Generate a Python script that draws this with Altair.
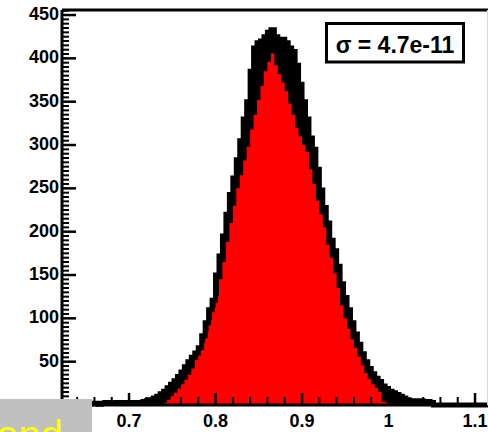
import altair as alt
import pandas as pd

# Histogram binning
bin_start = 0.640
bin_width = 0.004

# Broad distribution, drawn black (filled, with a thick outline)
outline_counts = [
    0, 1, 0, 1, 2, 2, 1, 2, 3, 2,
    2, 3, 2, 3, 2, 3, 2, 3, 3, 4,
    5, 6, 8, 10, 13, 16, 20, 24, 28, 33,
    38, 44, 50, 55, 60, 66, 80, 95, 110, 121,
    150, 172, 195, 220, 243, 262, 283, 305, 330, 350,
    385, 412, 418, 420, 425, 430, 433, 425, 420, 422,
    418, 412, 408, 392, 370, 350, 330, 308, 295, 272,
    248, 228, 210, 190, 178, 160, 140, 124, 110, 95,
    82, 70, 59, 50, 42, 36, 31, 27, 22, 19,
    16, 14, 12, 10, 8, 6, 5, 5, 4, 5,
    3, 4, 3, 0, 0, 0, 0, 0, 0, 0,
    0, 0, 0, 0, 0, 0, 0, 0, 0,
]

# Narrower distribution, drawn as a filled red histogram
filled_counts = [
    0, 0, 0, 0, 0, 0, 0, 0, 0, 0,
    0, 0, 0, 0, 0, 0, 0, 0, 0, 0,
    0, 0, 0, 0, 1, 3, 6, 10, 14, 19,
    24, 29, 35, 42, 52, 63, 72, 85, 98, 112,
    126, 145, 165, 188, 210, 230, 250, 265, 282, 298,
    318, 335, 352, 368, 385, 396, 406, 392, 382, 372,
    362, 348, 335, 320, 310, 300, 292, 272, 255, 236,
    220, 205, 185, 170, 152, 135, 115, 100, 88, 76,
    66, 56, 46, 37, 30, 24, 20, 15, 4, 3,
    2, 0, 0, 0, 0, 0, 0, 0, 0, 0,
    0, 0, 0, 0, 0, 0, 0, 0, 0, 0,
    0, 0, 0, 0, 0, 0, 0, 0, 0,
]

x_labels = [0.7, 0.8, 0.9, 1.0, 1.1]
y_labels = [50, 100, 150, 200, 250, 300, 350, 400, 450]
sigma_text = "σ = 4.7e-11"
legend_text = "Legend"

X_DOMAIN = [0.6225, 1.115]
Y_DOMAIN = [0, 455.8]
W, H = 426, 395
FONT = "Liberation Sans"

lo = [round(bin_start + i * bin_width, 4) for i in range(len(outline_counts))]
hi = [round(v + bin_width, 4) for v in lo]


def step_table(counts):
    # one row per bin left edge, plus the closing right edge of the last bin
    xs_ = lo + [hi[-1]]
    ns_ = list(counts) + [0]
    return pd.DataFrame({"x": xs_, "n": ns_, "base": 0})


broad = step_table(outline_counts)
narrow = step_table(filled_counts)

# Axis tick positions (primary / secondary divisions)
xt = [round(0.64 + 0.02 * i, 2) for i in range(24)]
xt_major = pd.DataFrame({"v": [v for v in xt if abs(v * 10 - round(v * 10)) < 1e-6]})
xt_minor = pd.DataFrame({"v": [v for v in xt if abs(v * 10 - round(v * 10)) >= 1e-6]})
yt = list(range(0, 456, 5))
yt_major = pd.DataFrame({"v": [v for v in yt if v % 50 == 0]})
yt_minor = pd.DataFrame({"v": [v for v in yt if v % 50 != 0]})

xlab = pd.DataFrame({"v": x_labels, "t": [f"{v:g}" for v in x_labels]})
ylab = pd.DataFrame({"v": y_labels, "t": [str(v) for v in y_labels]})

xs = alt.Scale(domain=X_DOMAIN, nice=False, zero=False)
ys = alt.Scale(domain=Y_DOMAIN, nice=False, zero=False)
one = pd.DataFrame({"k": [0]})


def X(f):
    return alt.X(f, scale=xs, axis=None)


def Y(f):
    return alt.Y(f, scale=ys, axis=None)


black_fill = alt.Chart(broad).mark_area(color="black", interpolate="step-after").encode(
    x=X("x:Q"), y=Y("n:Q"), y2="base:Q")
red_fill = alt.Chart(narrow).mark_area(color="#ff0000", interpolate="step-after").encode(
    x=X("x:Q"), y=Y("n:Q"), y2="base:Q")
black_line = alt.Chart(broad).mark_line(color="black", strokeWidth=5, strokeJoin="miter",
                                        strokeCap="butt", interpolate="step-after").encode(
    x=X("x:Q"), y=Y("n:Q"))

xtick_major = alt.Chart(xt_major).mark_rule(color="black", strokeWidth=2.5).encode(
    x=X("v:Q"), y=alt.value(H), y2=alt.value(H - 12))
xtick_minor = alt.Chart(xt_minor).mark_rule(color="black", strokeWidth=2).encode(
    x=X("v:Q"), y=alt.value(H), y2=alt.value(H - 8))
ytick_major = alt.Chart(yt_major).mark_rule(color="black", strokeWidth=2.5).encode(
    y=Y("v:Q"), x=alt.value(0), x2=alt.value(14))
ytick_minor = alt.Chart(yt_minor).mark_rule(color="black", strokeWidth=2).encode(
    y=Y("v:Q"), x=alt.value(0), x2=alt.value(7))

xlabels = alt.Chart(xlab).mark_text(font=FONT, fontWeight="bold", fontSize=18,
                                    align="center", baseline="middle", color="black").encode(
    x=X("v:Q"), y=alt.value(H + 17), text="t:N")
ylabels = alt.Chart(ylab).mark_text(font=FONT, fontWeight="bold", fontSize=18,
                                    align="right", baseline="middle", color="black").encode(
    y=Y("v:Q"), x=alt.value(-3), text="t:N")

# Frame
left_line = alt.Chart(one).mark_rule(color="black", strokeWidth=3).encode(
    x=alt.value(0), y=alt.value(0), y2=alt.value(H))
bottom_line = alt.Chart(one).mark_rule(color="black", strokeWidth=3).encode(
    x=alt.value(0), x2=alt.value(W), y=alt.value(H))
top_line = alt.Chart(one).mark_rule(color="black", strokeWidth=3).encode(
    x=alt.value(0), x2=alt.value(W), y=alt.value(0))
right_line = alt.Chart(one).mark_rule(color="#d8d8d8", strokeWidth=1).encode(
    x=alt.value(W - 0.5), y=alt.value(0), y2=alt.value(H))

# Statistics box
stat_box = alt.Chart(one).mark_rect(fill="white", stroke="black", strokeWidth=3).encode(
    x=alt.value(264.5), x2=alt.value(401.5), y=alt.value(13.5), y2=alt.value(52))
stat_text = alt.Chart(one).mark_text(text=sigma_text, font=FONT, fontWeight="bold",
                                     fontSize=23, align="center", baseline="alphabetic",
                                     color="black").encode(
    x=alt.value(333), y=alt.value(43))

# Legend patch in the lower-left corner
legend_box = alt.Chart(one).mark_rect(fill="#c0c0c0").encode(
    x=alt.value(-62), x2=alt.value(30), y=alt.value(389), y2=alt.value(430))
legend_label = alt.Chart(one).mark_text(text=legend_text, font=FONT, fontSize=40,
                                        align="right", baseline="alphabetic",
                                        color="#ffff00").encode(
    x=alt.value(1), y=alt.value(438.6))

chart = alt.layer(
    black_fill, red_fill, black_line,
    xtick_major, xtick_minor, ytick_major, ytick_minor,
    left_line, bottom_line, top_line, right_line,
    xlabels, ylabels,
    stat_box, stat_text, legend_box, legend_label,
).properties(
    width=W, height=H,
    padding={"left": 62, "top": 10, "right": 0, "bottom": 27},
    autosize=alt.AutoSizeParams(type="none"),
    background="white",
).configure_view(stroke=None)

chart.save("out.html", embed_options={"renderer": "svg", "actions": False})
